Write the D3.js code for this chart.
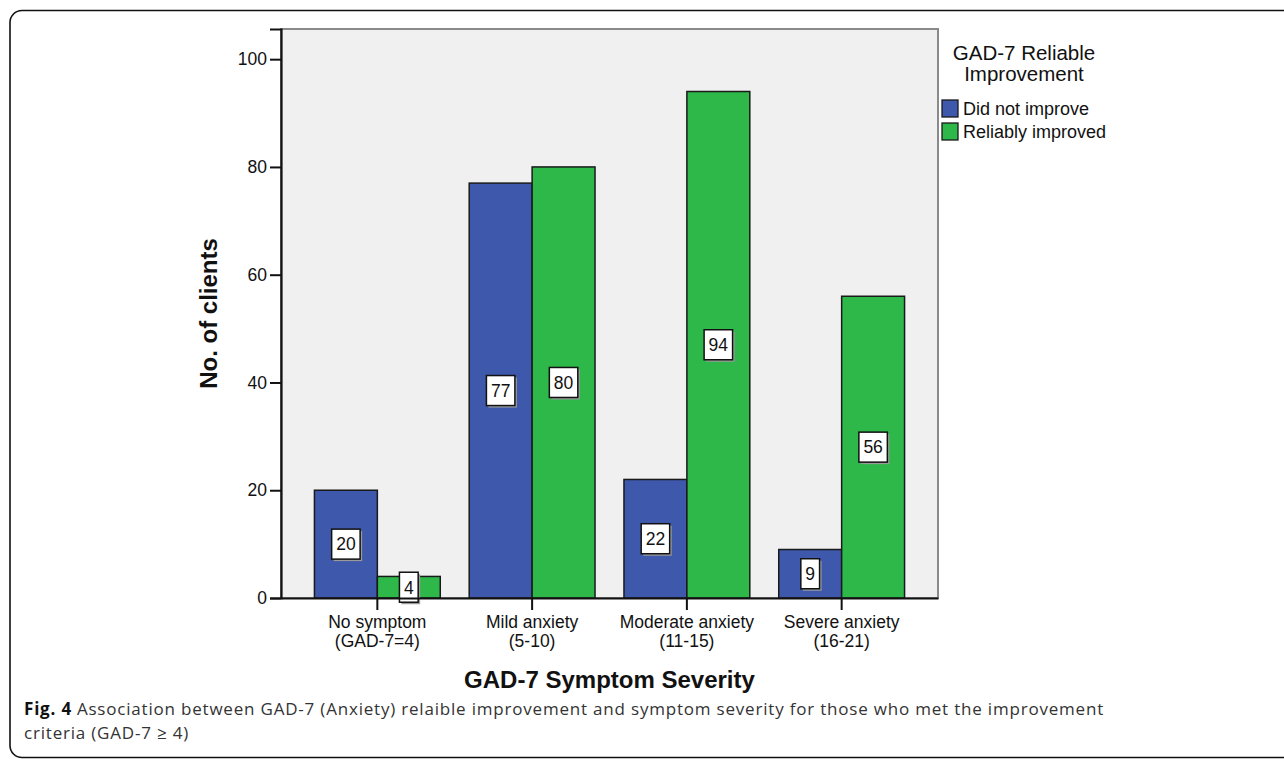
<!DOCTYPE html>
<html>
<head>
<meta charset="utf-8">
<script src="https://cdn.jsdelivr.net/npm/d3@7"></script>
<style>
  body { margin: 0; background: #fff; }
  svg { display: block; }
</style>
</head>
<body>
<div id="chart"></div>
<script>
// data
const categories = ["No symptom|(GAD-7=4)", "Mild anxiety|(5-10)", "Moderate anxiety|(11-15)", "Severe anxiety|(16-21)"];
const seriesNames = ["Did not improve", "Reliably improved"];
const didNotImprove = [20, 77, 22, 9];
const reliablyImproved = [4, 80, 94, 56];
const yTicks = [0, 20, 40, 60, 80, 100];
const colors = ["#3e58ab", "#2eb84a"];

let W = 1284, H = 759;
let plot = {left: 281, right: 938, top: 29, bottom: 598};

let svg = d3.select("#chart").append("svg")
    .attr("width", W)
    .attr("height", H);

// outer frame (rounded, right side runs off the page)
svg.append("rect")
    .attr("x", 10).attr("y", 10.5)
    .attr("width", 1300).attr("height", 747)
    .attr("rx", 12)
    .attr("fill", "none")
    .attr("stroke", "#111")
    .attr("stroke-width", 1.6);

// scales
const X_SCALE = d3.scaleBand()
    .domain(categories)
    .range([plot.left, plot.right])
    .paddingInner(0.187)
    .paddingOuter(0.216);

const X_SUB = d3.scaleBand()
    .domain(seriesNames)
    .range([0, X_SCALE.bandwidth()]);

const Y_SCALE = d3.scaleLinear()
    .domain([0, 105.6])
    .range([plot.bottom, plot.top]);

// plot background
svg.append("rect")
    .attr("x", plot.left).attr("y", plot.top)
    .attr("width", plot.right - plot.left)
    .attr("height", plot.bottom - plot.top)
    .attr("fill", "#f0f0f0")
    .attr("stroke", "#8a8a8a")
    .attr("stroke-width", 2);

// bars
let rows = categories.map((c, i) => ({cat: c, vals: [didNotImprove[i], reliablyImproved[i]]}));

let groups = svg.append("g").selectAll("g")
    .data(rows)
    .enter().append("g")
    .attr("transform", d => "translate(" + X_SCALE(d.cat) + ",0)");

groups.selectAll("rect")
    .data(d => d.vals.map((v, j) => ({v: v, s: seriesNames[j], j: j})))
    .enter().append("rect")
    .attr("x", d => X_SUB(d.s))
    .attr("y", d => Y_SCALE(d.v))
    .attr("width", X_SUB.bandwidth())
    .attr("height", d => Y_SCALE(0) - Y_SCALE(d.v))
    .attr("fill", d => colors[d.j])
    .attr("stroke", "#1a1a1a")
    .attr("stroke-width", 1.5);

// value labels in white boxes at half bar height
let labels = groups.selectAll("g.lab")
    .data(d => d.vals.map((v, j) => ({v: v, s: seriesNames[j]})))
    .enter().append("g")
    .attr("class", "lab")
    .attr("transform", d => "translate(" + (X_SUB(d.s) + X_SUB.bandwidth() / 2) + "," + Y_SCALE(d.v / 2) + ")");

labels.each(function(d) {
    let g = d3.select(this);
    let shadow = g.append("rect");
    let box = g.append("rect");
    let t = g.append("text")
        .attr("text-anchor", "middle")
        .attr("dy", "0.36em")
        .style("font-family", "'Liberation Sans', Arial, sans-serif")
        .style("font-size", "17.5px")
        .attr("fill", "#111")
        .text(d.v);
    let w = t.node().getComputedTextLength() + 9;
    let h = 30;
    shadow.attr("x", -w / 2 + 2).attr("y", -h / 2 + 2).attr("width", w).attr("height", h)
        .attr("fill", "#9a9a9a");
    box.attr("x", -w / 2).attr("y", -h / 2).attr("width", w).attr("height", h)
        .attr("fill", "#fff").attr("stroke", "#111").attr("stroke-width", 1.5);
});

// y axis
let yAxis = svg.append("g")
    .attr("transform", "translate(" + plot.left + ",0)")
    .call(d3.axisLeft(Y_SCALE).tickValues(yTicks).tickSize(11).tickPadding(3));
yAxis.select(".domain").attr("stroke", "#111").attr("stroke-width", 2.2);
yAxis.selectAll(".tick line").attr("stroke", "#111").attr("stroke-width", 2);
yAxis.selectAll(".tick text")
    .style("font-family", "'Liberation Sans', Arial, sans-serif")
    .style("font-size", "17.5px")
    .attr("fill", "#111");

// x axis
let xAxis = svg.append("g")
    .attr("transform", "translate(0," + plot.bottom + ")")
    .call(d3.axisBottom(X_SCALE).tickSize(12).tickSizeOuter(0));
xAxis.select(".domain").attr("stroke", "#111").attr("stroke-width", 2.2);
xAxis.selectAll(".tick line").attr("stroke", "#111").attr("stroke-width", 2);
xAxis.selectAll(".tick text").remove();
xAxis.selectAll(".tick").each(function(d) {
    let parts = d.split("|");
    let t = d3.select(this).append("text")
        .attr("text-anchor", "middle")
        .attr("fill", "#111")
        .style("font-family", "'Liberation Sans', Arial, sans-serif")
        .style("font-size", "17.5px");
    t.append("tspan").attr("x", 0).attr("y", 30).text(parts[0]);
    t.append("tspan").attr("x", 0).attr("y", 49).text(parts[1]);
});

// axis titles
svg.append("text")
    .attr("x", (plot.left + plot.right) / 2)
    .attr("y", 688)
    .attr("text-anchor", "middle")
    .style("font-family", "'Liberation Sans', Arial, sans-serif")
    .style("font-size", "24px")
    .style("font-weight", "bold")
    .attr("fill", "#111")
    .text("GAD-7 Symptom Severity");

svg.append("text")
    .attr("transform", "translate(217," + (plot.top + plot.bottom) / 2 + ") rotate(-90)")
    .attr("text-anchor", "middle")
    .style("font-family", "'Liberation Sans', Arial, sans-serif")
    .style("font-size", "24px")
    .style("font-weight", "bold")
    .attr("fill", "#111")
    .text("No. of clients");

// legend
let legend = svg.append("g");
legend.append("text")
    .attr("x", 1024).attr("text-anchor", "middle")
    .style("font-family", "'Liberation Sans', Arial, sans-serif")
    .style("font-size", "20.5px")
    .attr("fill", "#111")
    .selectAll("tspan")
    .data(["GAD-7 Reliable", "Improvement"])
    .enter().append("tspan")
    .attr("x", 1024)
    .attr("y", (d, i) => 60 + i * 21)
    .text(d => d);

let items = legend.selectAll("g.item")
    .data(seriesNames)
    .enter().append("g")
    .attr("class", "item")
    .attr("transform", (d, i) => "translate(942," + (100 + i * 23) + ")");
items.append("rect")
    .attr("width", 16).attr("height", 17)
    .attr("fill", (d, i) => colors[i])
    .attr("stroke", "#1a1a1a")
    .attr("stroke-width", 1.3);
items.append("text")
    .attr("x", 21).attr("y", 15)
    .style("font-family", "'Liberation Sans', Arial, sans-serif")
    .style("font-size", "18px")
    .attr("fill", "#111")
    .text(d => d);

// caption: bold figure number, then the sentence as its own text
function captionText(x, y, str) {
    return svg.append("text")
        .attr("x", x).attr("y", y)
        .style("font-family", "'Open Sans', 'Noto Sans', sans-serif")
        .style("font-size", "17px")
        .style("letter-spacing", "0.8px")
        .attr("fill", "#333")
        .text(str);
}
let fig = captionText(24, 715, "Fig. 4").style("font-weight", "bold").attr("fill", "#111");
let figW = fig.node().getComputedTextLength();
captionText(24 + figW + 5, 715, "Association between GAD-7 (Anxiety) relaible improvement and symptom severity for those who met the improvement");
captionText(24, 739, "criteria (GAD-7 \u2265 4)");
</script>
</body>
</html>
